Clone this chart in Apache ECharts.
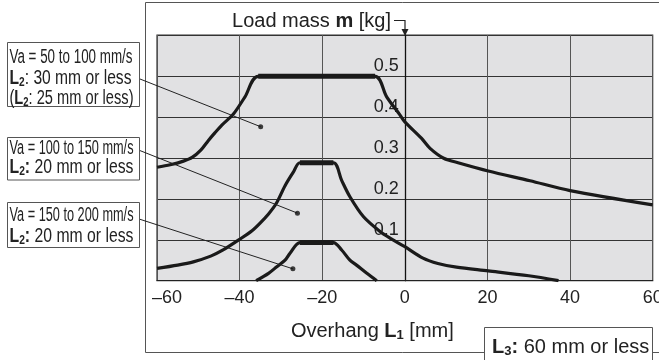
<!DOCTYPE html>
<html><head><meta charset="utf-8">
<script src="https://cdn.jsdelivr.net/npm/echarts@6/dist/echarts.min.js"></script>
<style>html,body{margin:0;padding:0;background:#fff}#c{width:659px;height:360px}</style>
</head><body><div id="c"></div>
<script>
// ---- data ----
const xTickLabels = ['–60', '–40', '–20', '0', '20', '40', '60'];
const yTickLabels = ['0.1', '0.2', '0.3', '0.4', '0.5'];
const seriesNames = ['Va = 50 to 100 mm/s', 'Va = 100 to 150 mm/s', 'Va = 150 to 200 mm/s'];

const curve50 = [[-60,0.277],[-56.8,0.283],[-53.6,0.292],[-51.5,0.301],[-49.4,0.319],[-47.6,0.342],[-46,0.361],[-44.3,0.380],
  [-41.5,0.407],[-38.7,0.449],[-35.5,0.499],
  [-7.2,0.499],[-4.4,0.449],[-1.2,0.405],[0,0.388],[4,0.348],[6.1,0.323],[9.4,0.299],[13.3,0.287],[20.2,0.268],[30.3,0.244],[40,0.22],[60,0.185]];
const plateau50 = [[-35.5,0.499],[-7.2,0.499]];

const curve100 = [[-60,0.030],[-55,0.038],[-51.2,0.046],[-47,0.060],[-44,0.075],[-40,0.101],[-37,0.122],[-35.1,0.140],[-33,0.163],[-31.1,0.189],
  [-29,0.232],[-27,0.265],[-25.4,0.288],[-17.3,0.288],[-15.3,0.245],[-13.3,0.205],[-10,0.156],[-6,0.120],[-3.6,0.104],[0,0.083],[4.4,0.055],
  [8,0.042],[12.5,0.033],[20.2,0.024],[30,0.012],[37.2,0.0]];
const plateau100 = [[-25.4,0.288],[-17.3,0.288]];

const curve150 = [[-36,0.0],[-33,0.018],[-31,0.034],[-29,0.050],[-27.8,0.067],[-25.4,0.093],[-17.3,0.093],[-15.3,0.075],[-13.3,0.050],
  [-11.7,0.038],[-9.2,0.018],[-6.8,0.0]];
const plateau150 = [[-25.4,0.093],[-17.3,0.093]];

const pointerDots = [[-34.9,0.376],[-26.0,0.165],[-27.1,0.029]];

// annotation texts (token style key, text)
const boxLines = [
  {w: 123, y: 57.5, t: [['n', 'Va = 50 to 100 mm/s']]},
  {w: 122, y: 78.5, t: [['b', 'L'], ['s', '2'], ['n', ': 30 mm or less']]},
  {w: 124, y: 98,   t: [['n', '('], ['b', 'L'], ['s', '2'], ['n', ': 25 mm or less)']]},
  {w: 124, y: 148.5, t: [['n', 'Va = 100 to 150 mm/s']]},
  {w: 124, y: 167.5, t: [['b', 'L'], ['s', '2'], ['b', ':'], ['n', ' 20 mm or less']]},
  {w: 124, y: 215,   t: [['n', 'Va = 150 to 200 mm/s']]},
  {w: 124, y: 236.5, t: [['b', 'L'], ['s', '2'], ['b', ':'], ['n', ' 20 mm or less']]}
];

// ---- chart ----
const F = "'Liberation Sans', Arial, Helvetica, sans-serif";
const INK = '#1a1a1a';
const GRID = {left: 157, right: 6.3, top: 35, bottom: 79.3};
const X_MIN = -60, X_MAX = 60;
const gridWidth = 659 - GRID.left - GRID.right;
const yAxisOffset = -((0 - X_MIN) / (X_MAX - X_MIN)) * gridWidth; // put y axis at x = 0

const TOK = {
  n: {size: 20, weight: 'normal'},
  b: {size: 20, weight: 'bold'},
  s: {size: 13, weight: 'bold'}
};
const boxRich = {
  n: {fontWeight: 'normal', fontSize: 20, lineHeight: 21, fontFamily: F, fill: '#222'},
  b: {fontWeight: 'bold', fontSize: 20, lineHeight: 21, fontFamily: F, fill: '#222'},
  s: {fontWeight: 'bold', fontSize: 13, lineHeight: 14, verticalAlign: 'bottom', fontFamily: F, fill: '#222'}
};
const mctx = document.createElement('canvas').getContext('2d');
function measureTokens(tokens) {
  let w = 0;
  tokens.forEach(function (tk) {
    const s = TOK[tk[0]];
    mctx.font = s.weight + ' ' + s.size + 'px ' + F;
    w += mctx.measureText(tk[1]).width;
  });
  return w;
}
function boxLineText(line) {
  const str = line.t.map(function (tk) { return '{' + tk[0] + '|' + tk[1] + '}'; }).join('');
  const sx = line.w / measureTokens(line.t);
  return {type: 'text', x: 9.5, y: line.y, scaleX: sx, z: 10,
    style: {text: str, rich: boxRich, fontSize: 20, lineHeight: 21, fontFamily: F, fill: '#222',
      align: 'left', verticalAlign: 'middle'}};
}
function boxRect(x, y, w, h) {
  return {type: 'rect', z: 9, shape: {x: x, y: y, width: w, height: h},
    style: {fill: '#fff', stroke: '#555', lineWidth: 1}};
}

const chart = echarts.init(document.getElementById('c'), null, {renderer: 'canvas'});

function lineSeries(name, data, w) {
  return {name: name, type: 'line', data: data, showSymbol: false, smooth: 0.3,
    lineStyle: {color: INK, width: w}, z: 3, silent: true};
}
function plateauSeries(data) {
  return {type: 'line', data: data, showSymbol: false, lineStyle: {color: INK, width: 5}, z: 4, silent: true};
}

const graphics = [
  // outer frame
  {type: 'polyline', z: 1, shape: {points: [[660, 2.5], [145.5, 2.5], [145.5, 352.5], [660, 352.5]]},
    style: {stroke: '#555', fill: null, lineWidth: 1}},
  // title with arrow
  {type: 'text', x: 391, y: 21, z: 10,
    style: {text: 'Load mass {b|m} [kg]', fontSize: 20, fontFamily: F, fill: '#222', align: 'right', verticalAlign: 'middle',
      rich: {b: {fontWeight: 'bold', fontSize: 20, fontFamily: F, fill: '#222'}}}},
  {type: 'polyline', z: 10, shape: {points: [[394, 20.5], [405, 20.5], [405, 31]]},
    style: {stroke: '#222', fill: null, lineWidth: 1.2}},
  {type: 'polygon', z: 10, shape: {points: [[401.5, 29], [408.5, 29], [405, 36]]}, style: {fill: '#222'}},
  // annotation boxes
  boxRect(7.5, 42.5, 132, 64),
  boxRect(7.5, 137.5, 132, 42.5),
  boxRect(7.5, 202.5, 132, 45),
  // L3 box
  boxRect(484.5, 327.5, 168, 40),
  {type: 'text', x: 492, y: 347, z: 10,
    style: {text: '{b|L}{s|3}{b|:} 60 mm or less', fontSize: 20, fontFamily: F, fill: '#222', align: 'left', verticalAlign: 'middle',
      lineHeight: 21, rich: boxRich}}
].concat(boxLines.map(boxLineText));

const option = {
  animation: false,
  backgroundColor: '#fff',
  grid: {left: GRID.left, right: GRID.right, top: GRID.top, bottom: GRID.bottom, show: true, backgroundColor: '#e1e1e3',
    borderColor: '#333', borderWidth: 1.2, containLabel: false, outerBoundsMode: 'none'},
  xAxis: {
    type: 'value', min: X_MIN, max: X_MAX, interval: 20,
    name: 'Overhang {b|L}{s|1} [mm]', nameLocation: 'middle', nameGap: 41,
    nameTextStyle: {fontSize: 20, fontFamily: F, color: '#222', padding: [0, 65, 0, 0], verticalAlign: 'top',
      rich: {b: {fontWeight: 'bold', fontSize: 20, fontFamily: F, color: '#222'},
             s: {fontWeight: 'bold', fontSize: 13, fontFamily: F, color: '#222', verticalAlign: 'bottom', lineHeight: 14}}},
    axisLine: {show: true, onZero: false, lineStyle: {color: '#222', width: 1}},
    axisTick: {show: false},
    splitLine: {show: true, lineStyle: {color: '#555', width: 1}},
    axisLabel: {
      margin: 8, fontSize: 18, fontFamily: F, color: '#222', showMinLabel: true, showMaxLabel: true,
      formatter: function (v) {
        const i = Math.round((v - X_MIN) / 20);
        const t = xTickLabels[i];
        return i === 0 ? '{first|' + t + '}' : t;
      },
      rich: {first: {fontSize: 18, fontFamily: F, color: '#222', padding: [0, 0, 0, 20]}}
    }
  },
  yAxis: {
    type: 'value', min: 0, max: 0.6, interval: 0.1,
    offset: yAxisOffset,
    axisLine: {show: true, onZero: false, lineStyle: {color: '#111', width: 1.3}},
    axisTick: {show: false},
    splitLine: {show: true, lineStyle: {color: '#333', width: 1}},
    axisLabel: {
      margin: 6, fontSize: 18, fontFamily: F, color: '#222', verticalAlign: 'bottom', padding: [0, 0, 1, 0],
      showMinLabel: true, showMaxLabel: true,
      formatter: function (v) {
        const i = Math.round(v * 10);
        return (i >= 1 && i <= 5) ? yTickLabels[i - 1] : '';
      }
    }
  },
  series: [
    lineSeries(seriesNames[0], curve50, 3.2),
    lineSeries(seriesNames[1], curve100, 3.2),
    lineSeries(seriesNames[2], curve150, 3.2),
    plateauSeries(plateau50),
    plateauSeries(plateau100),
    plateauSeries(plateau150),
    {
      type: 'scatter', data: pointerDots, symbolSize: 5, itemStyle: {color: '#111'}, z: 6, silent: true,
      markLine: {
        silent: true, symbol: ['none', 'none'], animation: false,
        lineStyle: {color: '#222', width: 1, type: 'solid'}, label: {show: false},
        emphasis: {disabled: true},
        data: [
          [{x: 140, y: 79}, {coord: pointerDots[0]}],
          [{x: 140, y: 150.6}, {coord: pointerDots[1]}],
          [{x: 140, y: 219.3}, {coord: pointerDots[2]}]
        ]
      }
    }
  ],
  graphic: graphics
};
chart.setOption(option);
</script>
</body></html>
